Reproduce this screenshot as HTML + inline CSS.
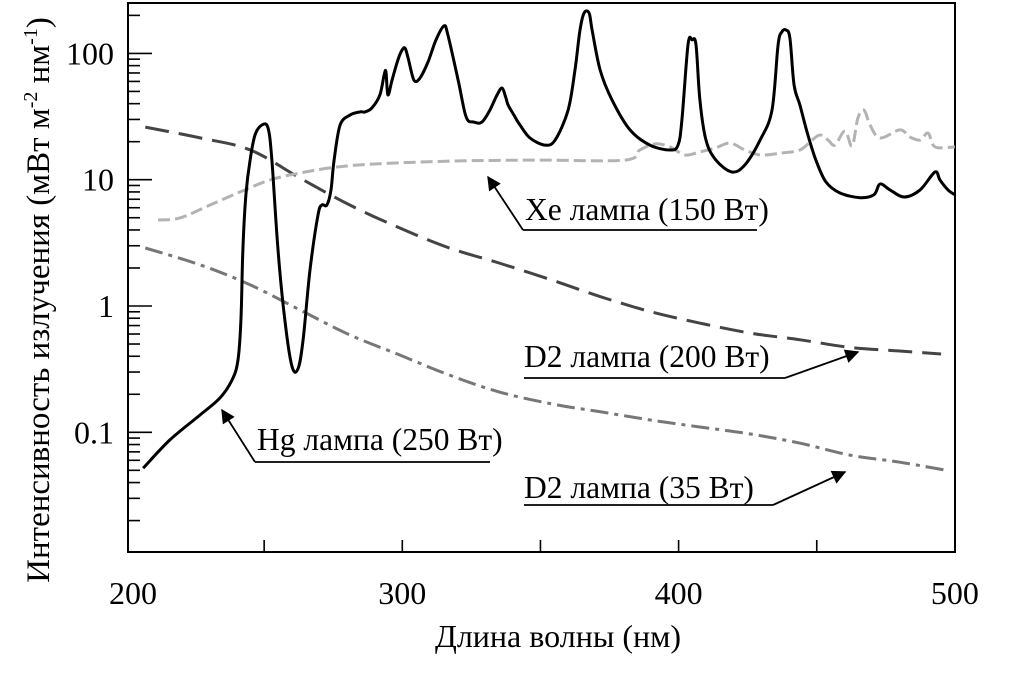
<!DOCTYPE html>
<html><head><meta charset="utf-8"><style>
html,body{margin:0;padding:0;background:#fff;}
svg{display:block;font-family:"Liberation Serif","Noto Serif CJK SC",serif;}
</style></head><body>
<svg id="chart" width="1025" height="675" viewBox="0 0 1025 675" xmlns="http://www.w3.org/2000/svg">
<defs>
<marker id="ah" viewBox="0 0 10 10" refX="9" refY="5" markerWidth="16" markerHeight="14" orient="auto-start-reverse" markerUnits="userSpaceOnUse"><path d="M0,0 L10,5 L0,10 z" fill="#000"/></marker>
</defs>
<rect x="128" y="3" width="827" height="549" fill="none" stroke="#000" stroke-width="2"/>
<g id="axes"></g>
<g id="series"></g>
<g font-size="31.5" fill="#000">
  <line x1="488" y1="177" x2="523" y2="230" stroke="#000" stroke-width="1.8" marker-start="url(#ah)"/>
  <line x1="523" y1="230" x2="757" y2="230" stroke="#000" stroke-width="1.8"/>
  <text x="525" y="220">Xe лампа (150 Вт)</text>
  <line x1="524" y1="378" x2="785" y2="378" stroke="#000" stroke-width="1.8"/>
  <line x1="785" y1="378" x2="858" y2="352" stroke="#000" stroke-width="1.8" marker-end="url(#ah)"/>
  <text x="524" y="367">D2 лампа (200 Вт)</text>
  <line x1="222" y1="410" x2="255" y2="462" stroke="#000" stroke-width="1.8" marker-start="url(#ah)"/>
  <line x1="255" y1="462" x2="490" y2="462" stroke="#000" stroke-width="1.8"/>
  <text x="257" y="450">Hg лампа (250 Вт)</text>
  <line x1="524" y1="505" x2="773" y2="505" stroke="#000" stroke-width="1.8"/>
  <line x1="773" y1="505" x2="845" y2="472" stroke="#000" stroke-width="1.8" marker-end="url(#ah)"/>
  <text x="524" y="498">D2 лампа (35 Вт)</text>
</g>
<text x="558" y="647" text-anchor="middle" font-size="32">Длина волны (нм)</text>
<text transform="translate(49,300) rotate(-90)" text-anchor="middle" font-size="33">Интенсивность излучения (мВт м<tspan dy="-12" font-size="20">-2</tspan><tspan dy="12"> нм</tspan><tspan dy="-12" font-size="20">-1</tspan><tspan dy="12">)</tspan></text>
</svg>
<script>
const hgWl=[206.2,215.9,226.8,234.0,238.4,240.5,241.6,242.3,243.4,244.9,246.7,249.2,251.4,252.8,255.0,257.5,260.1,262.3,264.1,266.6,269.5,270.9,272.7,274.2,275.3,277.5,281.1,284.7,286.5,289.0,291.9,293.4,294.1,294.8,296.3,298.4,299.9,301.0,302.1,304.2,306.4,309.3,312.2,315.1,316.5,320.2,323.1,325.9,328.8,331.7,334.3,336.1,337.5,338.3,340.4,342.6,346.2,351.6,355.3,360.0,362.5,364.3,365.8,367.6,368.7,371.6,375.9,382.4,389.6,396.9,399.8,401.2,403.4,404.9,406.3,407.7,409.9,413.5,419.3,424.0,429.5,433.8,436.0,437.4,438.9,440.3,441.8,443.9,446.8,449.7,453.3,458.4,465.7,470.7,472.9,476.5,481.6,487.4,492.8,494.6,497.5,500];
const hgVal=[0.052,0.087,0.137,0.187,0.26,0.37,0.77,2.8,7.6,14.3,22.6,27.1,25.7,14.3,2.8,0.77,0.33,0.32,0.54,1.93,5.25,6.3,6.3,8.3,14.3,27.1,32.5,34.4,34.4,37,46.9,67.4,71.3,46.9,61.6,88.7,106,110,92,61.6,63.9,85.5,128,165,140,61.6,31.4,28.6,28.6,35.6,46.9,53.2,44.4,39,32.5,27.1,21.4,18.8,20.6,35.6,74,153,209,209,153,74,42.8,24.8,18.8,17.2,18.8,29.7,117,128,117,42.8,20.6,14.3,11.5,13.1,20.6,35.6,117,148,153,132,56,39,22.6,14.3,9.6,7.85,7.2,7.6,9.25,8.3,7.3,8.3,11.5,9.95,8.3,7.6];
const xeWl=[211.6,219.5,230.4,241.3,252.1,263.0,273.8,284.7,299.2,320.9,349.8,380.6,386.0,391.5,396.9,402.3,407.7,413.2,418.6,424.0,429.5,436.7,443.9,448.3,451.2,454.1,456.6,460.2,462.8,464.9,467.1,469.3,472.9,480.1,483.7,487.4,490.3,492.8,500];
const xeVal=[4.8,4.98,6.3,8.0,9.95,11.3,12.4,13.1,13.6,14.1,14.3,14.3,17.2,19.2,18.2,15.7,16.6,17.8,19.5,17.2,15.7,16.2,17.2,20.6,22.6,20.6,18.8,24.3,18.5,30.8,35.6,27.1,21.4,24.8,21.8,20.6,23.4,18.2,18.2];
const d2Wl=[207,227,245,263,281,299,317,335,354,372,390,408,426,444,462,480,495];
const d2w200Val=[26.1,21.4,17.2,10.3,6.3,4.15,2.88,2.19,1.61,1.18,0.90,0.73,0.61,0.54,0.47,0.44,0.417];
const d2w35Wl=[207,227,245,263,281,299,317,335,354,372,390,408,426,444,462,480,497];
const d2w35Val=[2.88,2.11,1.47,0.93,0.59,0.41,0.284,0.209,0.168,0.145,0.125,0.110,0.097,0.082,0.066,0.058,0.050];
const xTicks=[200,250,300,350,400,450,500];
const xTickLabels=["200","","300","","400","","500"];
const yMajor=[0.1,1,10,100];
const yMajorLabels=["0.1","1","10","100"];

const NS="http://www.w3.org/2000/svg";
const X=w=>126+(w-200)*2.763;
const Y=v=>306-Math.log10(v)*126.3;
function mk(tag,attrs,parent){const e=document.createElementNS(NS,tag);for(const k in attrs)e.setAttribute(k,attrs[k]);parent.appendChild(e);return e;}
const axes=document.getElementById('axes');
xTicks.forEach((t,i)=>{
  if(t>200&&t<500){const l=mk('line',{x1:X(t),x2:X(t),y1:552,y2:540,stroke:'#000','stroke-width':1.6},axes);
  
  }
  if(xTickLabels[i]){const tx=mk('text',{x:Math.min(Math.max(X(t),133),955),y:604,'text-anchor':'middle','font-size':32},axes);tx.textContent=xTickLabels[i];
  
  }
});
for(let d=-2;d<=2;d++){
  for(let m=1;m<=9;m++){
    const v=m*Math.pow(10,d);const y=Y(v);
    if(y<3||y>552)continue;
    const l=mk('line',{x1:128,x2:m===1?152:140,y1:y,y2:y,stroke:'#000','stroke-width':1.6},axes);
    
    
  }
}
yMajor.forEach((v,i)=>{const t=mk('text',{x:114,y:Y(v)+11,'text-anchor':'end','font-size':32},axes);t.textContent=yMajorLabels[i];
  
  });
const ser=document.getElementById('series');
function line(wl,val,style,name){
  const P=wl.map((w,i)=>[X(w),Y(val[i])]);
  let d='M'+P[0][0].toFixed(1)+','+P[0][1].toFixed(1);
  for(let i=0;i<P.length-1;i++){
    const p0=P[Math.max(i-1,0)],p1=P[i],p2=P[i+1],p3=P[Math.min(i+2,P.length-1)];
    const c1=[p1[0]+(p2[0]-p0[0])/6,p1[1]+(p2[1]-p0[1])/6];
    const c2=[p2[0]-(p3[0]-p1[0])/6,p2[1]-(p3[1]-p1[1])/6];
    d+=' C'+c1[0].toFixed(1)+','+c1[1].toFixed(1)+' '+c2[0].toFixed(1)+','+c2[1].toFixed(1)+' '+p2[0].toFixed(1)+','+p2[1].toFixed(1);
  }
  const p=mk('path',Object.assign({d:d,fill:'none','stroke-linejoin':'round'},style),ser);
  
  
}
line(d2Wl,d2w200Val,{stroke:'#444','stroke-width':3,'stroke-dasharray':'24 10'},'d2-200w-series');
line(d2w35Wl,d2w35Val,{stroke:'#777','stroke-width':3,'stroke-dasharray':'18 6 4 6'},'d2-35w-series');
line(xeWl,xeVal,{stroke:'#b3b3b3','stroke-width':3,'stroke-dasharray':'12 5'},'xe-150w-series');
line(hgWl,hgVal,{stroke:'#000','stroke-width':3},'hg-250w-series');
</script>
</body></html>
